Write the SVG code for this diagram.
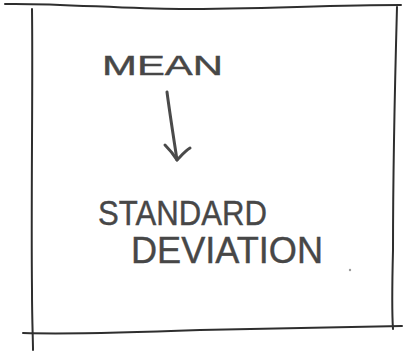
<svg xmlns="http://www.w3.org/2000/svg" width="406" height="360" viewBox="0 0 406 360">
  <defs>
    <style>
      .frame { fill: none; stroke: #2e2e2e; stroke-width: 2; stroke-linecap: round; stroke-linejoin: round; }
      .pen { fill: none; stroke: #4a4a4a; stroke-width: 3; stroke-linecap: round; stroke-linejoin: round; }
      .label { font-family: "Liberation Sans", Arial, sans-serif; fill: #474747; stroke: #474747; stroke-width: 0.4; }
    </style>
  </defs>
  <rect width="406" height="360" fill="#ffffff"/>

  <!-- sketched frame: edges overshoot at the corners -->
  <g id="frame">
    <path class="frame" d="M5,4 C60,3 120,9 180,9 C260,9 330,5 401,5"/>
    <path class="frame" d="M32,9 C33,80 31,200 32,290 C32,320 33,340 33,350"/>
    <path class="frame" d="M397,7 C395,80 393,180 393,250 C392,290 392,315 393,329"/>
    <path class="frame" d="M23,333 C60,334 120,333 200,330 C280,328 350,327 402,326"/>
  </g>

  <g id="mean">
    <text class="label" x="102" y="75" font-size="27" textLength="121" lengthAdjust="spacingAndGlyphs">MEAN</text>
  </g>

  <g id="standard-deviation">
    <text class="label" x="98" y="225" font-size="35" textLength="169" lengthAdjust="spacingAndGlyphs">STANDARD</text>
    <text class="label" x="131" y="263" font-size="37" textLength="192" lengthAdjust="spacingAndGlyphs">DEVIATION</text>
  </g>

  <g id="connectors">
    <path class="pen" d="M167,92 C170,115 174,140 177,160"/>
    <path class="pen" d="M165,145 C170,150 174,155 177,160 C181,156 185,151 190,148"/>
  </g>

  <circle cx="350" cy="270" r="1.2" fill="#9a9a9a"/>
</svg>
